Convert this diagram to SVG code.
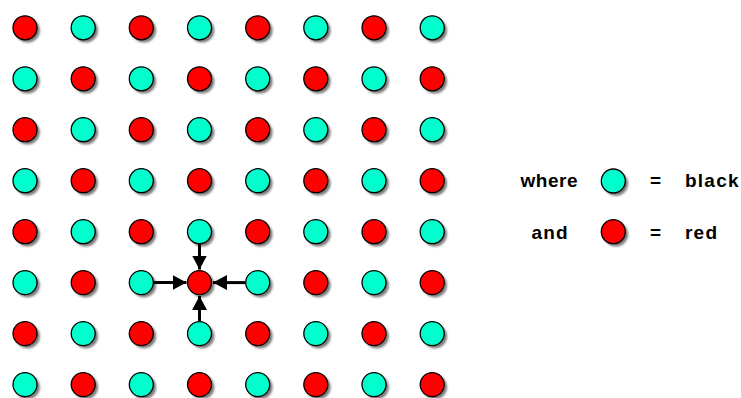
<svg xmlns="http://www.w3.org/2000/svg" width="741" height="398" viewBox="0 0 741 398">
<defs>
<style>
.r{fill:#ff0000;stroke:#000;stroke-width:1.3}
.c{fill:#00ffcc;stroke:#000;stroke-width:1.3}
.s{fill:#7a7a7a;filter:url(#blur)}
.t{font-family:"Liberation Sans",Arial,sans-serif;font-weight:bold;font-size:19px;fill:#000}
.a{stroke:#000;stroke-width:3;fill:none;marker-end:url(#ah)}
</style>
<filter id="blur" x="-30%" y="-30%" width="160%" height="160%"><feGaussianBlur stdDeviation="0.9"/></filter>
<marker id="ah" markerUnits="userSpaceOnUse" viewBox="0 0 14 15" markerWidth="14" markerHeight="15" refX="14" refY="7.5" orient="auto"><path d="M0,0 L14,7.5 L0,15 z" fill="#000"/></marker>
<g id="dotR"><circle class="s" cx="2.6" cy="2.6" r="12.2"/><circle class="r" cx="0" cy="0" r="12"/></g>
<g id="dotC"><circle class="s" cx="2.6" cy="2.6" r="12.2"/><circle class="c" cx="0" cy="0" r="12"/></g>
</defs>
<rect width="741" height="398" fill="#fff"/>
<g id="grid">
<g id="n0-0"><use href="#dotR" x="25" y="27.8"/></g>
<g id="n0-1"><use href="#dotC" x="83.2" y="27.8"/></g>
<g id="n0-2"><use href="#dotR" x="141.3" y="27.8"/></g>
<g id="n0-3"><use href="#dotC" x="199.5" y="27.8"/></g>
<g id="n0-4"><use href="#dotR" x="257.7" y="27.8"/></g>
<g id="n0-5"><use href="#dotC" x="315.8" y="27.8"/></g>
<g id="n0-6"><use href="#dotR" x="374" y="27.8"/></g>
<g id="n0-7"><use href="#dotC" x="432.2" y="27.8"/></g>
<g id="n1-0"><use href="#dotC" x="25" y="78.8"/></g>
<g id="n1-1"><use href="#dotR" x="83.2" y="78.8"/></g>
<g id="n1-2"><use href="#dotC" x="141.3" y="78.8"/></g>
<g id="n1-3"><use href="#dotR" x="199.5" y="78.8"/></g>
<g id="n1-4"><use href="#dotC" x="257.7" y="78.8"/></g>
<g id="n1-5"><use href="#dotR" x="315.8" y="78.8"/></g>
<g id="n1-6"><use href="#dotC" x="374" y="78.8"/></g>
<g id="n1-7"><use href="#dotR" x="432.2" y="78.8"/></g>
<g id="n2-0"><use href="#dotR" x="25" y="129.7"/></g>
<g id="n2-1"><use href="#dotC" x="83.2" y="129.7"/></g>
<g id="n2-2"><use href="#dotR" x="141.3" y="129.7"/></g>
<g id="n2-3"><use href="#dotC" x="199.5" y="129.7"/></g>
<g id="n2-4"><use href="#dotR" x="257.7" y="129.7"/></g>
<g id="n2-5"><use href="#dotC" x="315.8" y="129.7"/></g>
<g id="n2-6"><use href="#dotR" x="374" y="129.7"/></g>
<g id="n2-7"><use href="#dotC" x="432.2" y="129.7"/></g>
<g id="n3-0"><use href="#dotC" x="25" y="180.7"/></g>
<g id="n3-1"><use href="#dotR" x="83.2" y="180.7"/></g>
<g id="n3-2"><use href="#dotC" x="141.3" y="180.7"/></g>
<g id="n3-3"><use href="#dotR" x="199.5" y="180.7"/></g>
<g id="n3-4"><use href="#dotC" x="257.7" y="180.7"/></g>
<g id="n3-5"><use href="#dotR" x="315.8" y="180.7"/></g>
<g id="n3-6"><use href="#dotC" x="374" y="180.7"/></g>
<g id="n3-7"><use href="#dotR" x="432.2" y="180.7"/></g>
<g id="n4-0"><use href="#dotR" x="25" y="231.7"/></g>
<g id="n4-1"><use href="#dotC" x="83.2" y="231.7"/></g>
<g id="n4-2"><use href="#dotR" x="141.3" y="231.7"/></g>
<g id="n4-3"><use href="#dotC" x="199.5" y="231.7"/></g>
<g id="n4-4"><use href="#dotR" x="257.7" y="231.7"/></g>
<g id="n4-5"><use href="#dotC" x="315.8" y="231.7"/></g>
<g id="n4-6"><use href="#dotR" x="374" y="231.7"/></g>
<g id="n4-7"><use href="#dotC" x="432.2" y="231.7"/></g>
<g id="n5-0"><use href="#dotC" x="25" y="282.6"/></g>
<g id="n5-1"><use href="#dotR" x="83.2" y="282.6"/></g>
<g id="n5-2"><use href="#dotC" x="141.3" y="282.6"/></g>
<g id="n5-3"><use href="#dotR" x="199.5" y="282.6"/></g>
<g id="n5-4"><use href="#dotC" x="257.7" y="282.6"/></g>
<g id="n5-5"><use href="#dotR" x="315.8" y="282.6"/></g>
<g id="n5-6"><use href="#dotC" x="374" y="282.6"/></g>
<g id="n5-7"><use href="#dotR" x="432.2" y="282.6"/></g>
<g id="n6-0"><use href="#dotR" x="25" y="333.6"/></g>
<g id="n6-1"><use href="#dotC" x="83.2" y="333.6"/></g>
<g id="n6-2"><use href="#dotR" x="141.3" y="333.6"/></g>
<g id="n6-3"><use href="#dotC" x="199.5" y="333.6"/></g>
<g id="n6-4"><use href="#dotR" x="257.7" y="333.6"/></g>
<g id="n6-5"><use href="#dotC" x="315.8" y="333.6"/></g>
<g id="n6-6"><use href="#dotR" x="374" y="333.6"/></g>
<g id="n6-7"><use href="#dotC" x="432.2" y="333.6"/></g>
<g id="n7-0"><use href="#dotC" x="25" y="384.6"/></g>
<g id="n7-1"><use href="#dotR" x="83.2" y="384.6"/></g>
<g id="n7-2"><use href="#dotC" x="141.3" y="384.6"/></g>
<g id="n7-3"><use href="#dotR" x="199.5" y="384.6"/></g>
<g id="n7-4"><use href="#dotC" x="257.7" y="384.6"/></g>
<g id="n7-5"><use href="#dotR" x="315.8" y="384.6"/></g>
<g id="n7-6"><use href="#dotC" x="374" y="384.6"/></g>
<g id="n7-7"><use href="#dotR" x="432.2" y="384.6"/></g>
</g>
<g id="connectors">
<line class="a" x1="199.5" y1="244" x2="199.5" y2="269.5"/>
<line class="a" x1="199.5" y1="321" x2="199.5" y2="296"/>
<line class="a" x1="154" y1="282.6" x2="186.5" y2="282.6"/>
<line class="a" x1="245" y1="282.6" x2="213" y2="282.6"/>
</g>
<g id="legend-black">
<text class="t" x="520.5" y="187.3" textLength="57" lengthAdjust="spacing">where</text>
<use href="#dotC" x="613.3" y="181"/>
<text class="t" x="650" y="187.3">=</text>
<text class="t" x="685" y="187.3" textLength="53.5" lengthAdjust="spacing">black</text>
</g>
<g id="legend-red">
<text class="t" x="531.5" y="238.7" textLength="36" lengthAdjust="spacing">and</text>
<use href="#dotR" x="613.3" y="231.7"/>
<text class="t" x="650" y="238.7">=</text>
<text class="t" x="685" y="238.7" textLength="32" lengthAdjust="spacing">red</text>
</g>
</svg>
